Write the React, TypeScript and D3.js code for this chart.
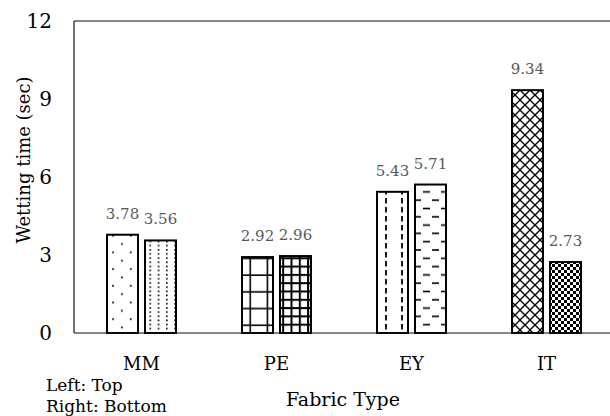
import React from 'react';
import * as d3 from 'd3';

const categories = ['MM', 'PE', 'EY', 'IT'];
const topValues = [3.78, 2.92, 5.43, 9.34];
const bottomValues = [3.56, 2.96, 5.71, 2.73];
const yTicks = [0, 3, 6, 9, 12];
const topPatterns = ['dotsSparse', 'gridLarge', 'dashVert', 'crossHatch'];
const bottomPatterns = ['dotsDense', 'gridSmall', 'dashHoriz', 'checker'];

const W = 610;
const H = 416;
const margin = { top: 21, left: 74, bottom: 333 };
const FONT = '"DejaVu Serif", serif';

const Patterns = () => (
  <defs>
    <pattern id="dotsSparse" patternUnits="userSpaceOnUse" width={17.7} height={16.7}>
      <rect x={6} y={1} width={1.7} height={1.7} fill="#000" />
      <rect x={14.85} y={9.35} width={1.7} height={1.7} fill="#000" />
    </pattern>
    <pattern id="dotsDense" patternUnits="userSpaceOnUse" width={8.3} height={8.3}>
      <rect x={0} y={0} width={1.6} height={1.6} fill="#000" />
      <rect x={0} y={4.15} width={1.6} height={1.6} fill="#000" />
    </pattern>
    <pattern id="gridLarge" patternUnits="userSpaceOnUse" width={17.3} height={16.7}>
      <line x1={8} y1={0} x2={8} y2={16.7} stroke="#000" strokeWidth={1.6} />
      <line x1={0} y1={8} x2={17.3} y2={8} stroke="#000" strokeWidth={1.6} />
    </pattern>
    <pattern id="gridSmall" patternUnits="userSpaceOnUse" width={8.3} height={8.3}>
      <line x1={1} y1={0} x2={1} y2={8.3} stroke="#000" strokeWidth={2} />
      <line x1={0} y1={1} x2={8.3} y2={1} stroke="#000" strokeWidth={2} />
    </pattern>
    <pattern id="dashVert" patternUnits="userSpaceOnUse" width={16} height={9}>
      <line x1={2} y1={0} x2={2} y2={5.5} stroke="#000" strokeWidth={1.8} />
    </pattern>
    <pattern id="dashHoriz" patternUnits="userSpaceOnUse" width={18} height={16.6}>
      <line x1={0} y1={1} x2={7} y2={1} stroke="#000" strokeWidth={1.6} />
      <line x1={9} y1={9.3} x2={16} y2={9.3} stroke="#000" strokeWidth={1.6} />
    </pattern>
    <pattern id="crossHatch" patternUnits="userSpaceOnUse" width={10} height={10}>
      <line x1={0} y1={0} x2={10} y2={10} stroke="#000" strokeWidth={1.3} />
      <line x1={10} y1={0} x2={0} y2={10} stroke="#000" strokeWidth={1.3} />
    </pattern>
    <pattern id="checker" patternUnits="userSpaceOnUse" width={6} height={6}>
      <rect x={0} y={0} width={3} height={3} fill="#000" />
      <rect x={3} y={3} width={3} height={3} fill="#000" />
    </pattern>
  </defs>
);

export default function App() {
  const x = d3.scaleBand<string>()
    .domain(categories)
    .range([margin.left, margin.left + 135 * categories.length])
    .paddingInner(0)
    .paddingOuter(0);
  const y = d3.scaleLinear().domain([0, 12]).range([margin.bottom, margin.top]);

  const barW = 31;
  const gap = 7;
  const pad = (x.bandwidth() - 2 * barW - gap) / 2;

  const bars = categories.flatMap((c, i) => [
    { key: `${c}-t`, x: x(c)! + pad, v: topValues[i], pat: topPatterns[i] },
    { key: `${c}-b`, x: x(c)! + pad + barW + gap, v: bottomValues[i], pat: bottomPatterns[i] },
  ]);

  const x0 = margin.left;
  const x1 = margin.left + 135 * categories.length;

  return (
    <svg width={W} height={H} style={{ position: 'absolute', left: 0, top: 0, background: '#fff' }}>
      <Patterns />
      {/* frame */}
      <line x1={x0} y1={y(12)} x2={x1} y2={y(12)} stroke="#111" strokeWidth={1.2} />
      <line x1={x0} y1={y(12)} x2={x0} y2={y(0)} stroke="#111" strokeWidth={1.2} />
      <line x1={x1} y1={y(12)} x2={x1} y2={y(0)} stroke="#111" strokeWidth={1.2} />

      {bars.map(b => (
        <g key={b.key}>
          <rect x={b.x} y={y(b.v)} width={barW} height={y(0) - y(b.v)} fill="#fff" />
          <rect x={b.x} y={y(b.v)} width={barW} height={y(0) - y(b.v)}
            fill={`url(#${b.pat})`} stroke="#000" strokeWidth={2} />
          <text x={b.x + barW / 2} y={y(b.v) - 16} textAnchor="middle"
            fontFamily={FONT} fontSize={15} fill="#595959">{b.v.toFixed(2)}</text>
        </g>
      ))}

      <line x1={x0} y1={y(0)} x2={x1} y2={y(0)} stroke="#111" strokeWidth={1.2} />

      {yTicks.map(t => (
        <text key={t} x={52} y={y(t)} dy="0.36em" textAnchor="end"
          fontFamily={FONT} fontSize={20} fill="#000">{t}</text>
      ))}

      {categories.map(c => (
        <text key={c} x={x(c)! + x.bandwidth() / 2} y={370} textAnchor="middle"
          fontFamily={FONT} fontSize={18} fill="#000">{c}</text>
      ))}

      <text transform="translate(30,160) rotate(-90)" textAnchor="middle"
        fontFamily={FONT} fontSize={18} fill="#000">Wetting time (sec)</text>
      <text x={343} y={406} textAnchor="middle" fontFamily={FONT} fontSize={19} fill="#000">Fabric Type</text>
      <text x={46} y={391} fontFamily={FONT} fontSize={17} fill="#000">Left: Top</text>
      <text x={46} y={412} fontFamily={FONT} fontSize={17} fill="#000">Right: Bottom</text>
    </svg>
  );
}
